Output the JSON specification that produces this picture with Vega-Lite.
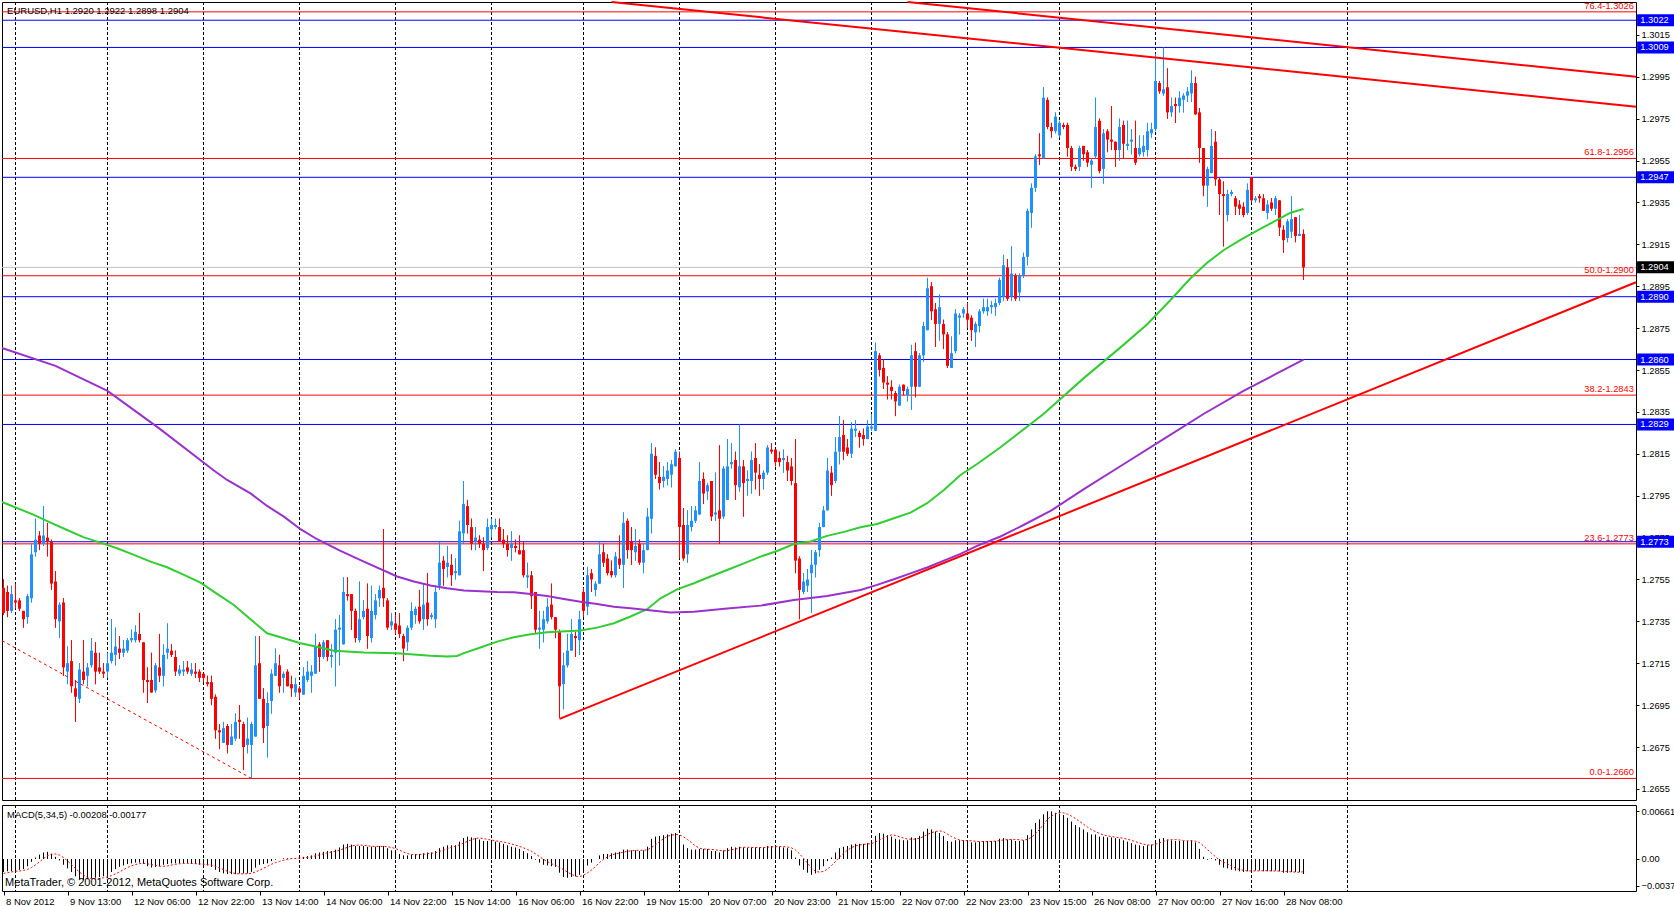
{
"$schema": "https://vega.github.io/schema/vega-lite/v6.json",
"padding": {"left": -3, "top": -3, "right": 0, "bottom": 0},
"background": "white",
"spacing": 3,
"config": {"view": {"stroke": "#000000", "strokeWidth": 1}, "axis": {"labelFont": "Liberation Sans", "labelFontSize": 9.3, "labelColor": "#000000", "tickColor": "#000000", "domain": false, "grid": false, "title": null}, "text": {"font": "Liberation Sans"}},
"datasets": {
"grid": [{"i":3},{"i":26},{"i":50},{"i":74},{"i":98},{"i":122},{"i":145},{"i":169},{"i":193},{"i":217},{"i":241},{"i":264},{"i":288},{"i":312},{"i":336}],
"blue": [{"v":1.3022,"t":"1.3022"},{"v":1.3009,"t":"1.3009"},{"v":1.2947,"t":"1.2947"},{"v":1.289,"t":"1.2890"},{"v":1.286,"t":"1.2860"},{"v":1.2829,"t":"1.2829"},{"v":1.2773,"t":"1.2773"}],
"fib": [{"v":1.3026,"t":"76.4-1.3026"},{"v":1.2956,"t":"61.8-1.2956"},{"v":1.29,"t":"50.0-1.2900"},{"v":1.2843,"t":"38.2-1.2843"},{"v":1.2772,"t":"23.6-1.2773"},{"v":1.266,"t":"0.0-1.2660"}],
"bid": [{"v":1.2904,"t":"1.2904"}],
"trend": [{"g":"a","i":152,"p":1.30307},{"g":"a","i":408.125,"p":1.29807},{"g":"b","i":226,"p":1.30307},{"g":"b","i":408.125,"p":1.2995},{"g":"c","i":139,"p":1.26884},{"g":"c","i":408.125,"p":1.28969}],
"dash": [{"i":-0.375,"p":1.27258},{"i":62,"p":1.266}],
"maG": [{"i":-0.375,"v":1.2792},{"i":7.6,"v":1.27858},{"i":11.75,"v":1.27821},{"i":15.9,"v":1.27786},{"i":20.1,"v":1.27751},{"i":24.25,"v":1.27726},{"i":28.4,"v":1.27699},{"i":32.6,"v":1.27667},{"i":36.75,"v":1.27635},{"i":40.9,"v":1.27608},{"i":45.1,"v":1.27572},{"i":49.25,"v":1.27535},{"i":53.4,"v":1.27481},{"i":57.6,"v":1.27428},{"i":61.75,"v":1.2736},{"i":65.9,"v":1.27293},{"i":70.1,"v":1.27269},{"i":74.25,"v":1.27245},{"i":78.4,"v":1.27229},{"i":82.6,"v":1.2721},{"i":90.1,"v":1.27201},{"i":98.4,"v":1.27198},{"i":106.75,"v":1.27186},{"i":110.9,"v":1.27182},{"i":113.4,"v":1.27185},{"i":115.1,"v":1.27198},{"i":119.25,"v":1.27225},{"i":123.4,"v":1.27253},{"i":127.6,"v":1.27274},{"i":131.75,"v":1.27288},{"i":135.9,"v":1.27298},{"i":144.25,"v":1.27306},{"i":148.4,"v":1.2732},{"i":152.6,"v":1.27341},{"i":156.75,"v":1.27373},{"i":160.9,"v":1.27408},{"i":164.25,"v":1.2746},{"i":168.4,"v":1.27503},{"i":172.6,"v":1.27532},{"i":176.75,"v":1.27564},{"i":180.9,"v":1.27595},{"i":185.1,"v":1.27627},{"i":189.25,"v":1.27659},{"i":193.4,"v":1.27686},{"i":197.6,"v":1.27719},{"i":201.75,"v":1.27731},{"i":205.9,"v":1.27758},{"i":210.1,"v":1.27777},{"i":214.25,"v":1.27799},{"i":218.4,"v":1.27815},{"i":222.6,"v":1.27842},{"i":226.75,"v":1.27869},{"i":230.9,"v":1.27914},{"i":235.1,"v":1.27977},{"i":239.25,"v":1.28049},{"i":243.4,"v":1.28101},{"i":249.25,"v":1.28181},{"i":260,"v":1.2834},{"i":270,"v":1.2851},{"i":280,"v":1.2867},{"i":286,"v":1.2877},{"i":291.75,"v":1.28884},{"i":296.75,"v":1.28988},{"i":300.9,"v":1.29062},{"i":305.1,"v":1.29123},{"i":309.25,"v":1.29171},{"i":313.4,"v":1.29215},{"i":317.6,"v":1.29258},{"i":321.75,"v":1.29301},{"i":325,"v":1.29319}],
"maP": [{"i":-0.375,"v":1.28655},{"i":13,"v":1.2857},{"i":26,"v":1.2845},{"i":39,"v":1.2827},{"i":52.6,"v":1.2807},{"i":55.9,"v":1.28025},{"i":61.75,"v":1.27961},{"i":65.9,"v":1.27901},{"i":70.1,"v":1.2785},{"i":74.25,"v":1.2779},{"i":78.4,"v":1.27742},{"i":84.25,"v":1.27686},{"i":90.1,"v":1.27635},{"i":98.4,"v":1.27564},{"i":102.6,"v":1.2754},{"i":106.75,"v":1.27521},{"i":110.9,"v":1.27508},{"i":115.1,"v":1.27497},{"i":123.4,"v":1.2749},{"i":127.6,"v":1.27489},{"i":131.75,"v":1.27481},{"i":135.9,"v":1.27471},{"i":140.1,"v":1.27457},{"i":144.25,"v":1.27444},{"i":148.4,"v":1.27433},{"i":152.6,"v":1.2742},{"i":156.75,"v":1.27412},{"i":160.9,"v":1.27404},{"i":166.75,"v":1.27392},{"i":172.6,"v":1.27396},{"i":180.9,"v":1.27411},{"i":189.25,"v":1.27425},{"i":197.6,"v":1.27452},{"i":205.9,"v":1.27471},{"i":214.25,"v":1.275},{"i":218.4,"v":1.27524},{"i":222.6,"v":1.27551},{"i":226.75,"v":1.27579},{"i":230.9,"v":1.27607},{"i":235.1,"v":1.2764},{"i":239.25,"v":1.27672},{"i":243.4,"v":1.2771},{"i":249.25,"v":1.27755},{"i":255,"v":1.2781},{"i":262,"v":1.2788},{"i":270,"v":1.2798},{"i":280,"v":1.281},{"i":290,"v":1.2822},{"i":300,"v":1.2834},{"i":310,"v":1.2845},{"i":318,"v":1.2853},{"i":325,"v":1.286}],
"bars": [
{"i":0,"o":1.2751,"h":1.2755,"l":1.2738,"c":1.2739,"m":-0.0018,"s":-0.002},
{"i":1,"o":1.2749,"h":1.2752,"l":1.2737,"c":1.274,"m":-0.0017,"s":-0.0019},
{"i":2,"o":1.274,"h":1.2752,"l":1.2739,"c":1.2748,"m":-0.0017,"s":-0.0018},
{"i":3,"o":1.2745,"h":1.2753,"l":1.2741,"c":1.2744,"m":-0.0016,"s":-0.0017},
{"i":4,"o":1.2745,"h":1.2746,"l":1.274,"c":1.2741,"m":-0.0015,"s":-0.00166},
{"i":5,"o":1.274,"h":1.274,"l":1.2732,"c":1.2736,"m":-0.0014,"s":-0.00158},
{"i":6,"o":1.2737,"h":1.2748,"l":1.2734,"c":1.2747,"m":-0.001,"s":-0.00144},
{"i":7,"o":1.2746,"h":1.2772,"l":1.2744,"c":1.2767,"m":-0.0004,"s":-0.00118},
{"i":8,"o":1.2768,"h":1.2784,"l":1.2766,"c":1.2774,"m":0.0002,"s":-0.00082},
{"i":9,"o":1.2776,"h":1.2778,"l":1.2769,"c":1.2772,"m":0.0006,"s":-0.0004},
{"i":10,"o":1.2772,"h":1.279,"l":1.2771,"c":1.2776,"m":0.0009,"s":0.00006},
{"i":11,"o":1.2775,"h":1.2782,"l":1.2766,"c":1.2773,"m":0.001,"s":0.00046},
{"i":12,"o":1.2773,"h":1.2774,"l":1.275,"c":1.2753,"m":0.0007,"s":0.00068},
{"i":13,"o":1.2754,"h":1.2759,"l":1.2732,"c":1.2736,"m":0.0003,"s":0.0007},
{"i":14,"o":1.2735,"h":1.2744,"l":1.2727,"c":1.2743,"m":-0.0002,"s":0.00054},
{"i":15,"o":1.2744,"h":1.2746,"l":1.2709,"c":1.2713,"m":-0.0008,"s":0.0002},
{"i":16,"o":1.2711,"h":1.2723,"l":1.2705,"c":1.2715,"m":-0.0013,"s":-0.00026},
{"i":17,"o":1.2716,"h":1.2726,"l":1.2701,"c":1.2704,"m":-0.0018,"s":-0.00076},
{"i":18,"o":1.2703,"h":1.2707,"l":1.2687,"c":1.2699,"m":-0.0024,"s":-0.0013},
{"i":19,"o":1.2698,"h":1.2715,"l":1.2696,"c":1.2712,"m":-0.0028,"s":-0.00182},
{"i":20,"o":1.2711,"h":1.2726,"l":1.2705,"c":1.2707,"m":-0.0029,"s":-0.00224},
{"i":21,"o":1.2709,"h":1.2715,"l":1.2704,"c":1.2713,"m":-0.0028,"s":-0.00254},
{"i":22,"o":1.2714,"h":1.2727,"l":1.2713,"c":1.2721,"m":-0.0027,"s":-0.00272},
{"i":23,"o":1.272,"h":1.2725,"l":1.2705,"c":1.2711,"m":-0.0026,"s":-0.00276},
{"i":24,"o":1.2713,"h":1.272,"l":1.271,"c":1.2711,"m":-0.0025,"s":-0.0027},
{"i":25,"o":1.2711,"h":1.2715,"l":1.2708,"c":1.271,"m":-0.0024,"s":-0.0026},
{"i":26,"o":1.2711,"h":1.272,"l":1.2708,"c":1.2715,"m":-0.0022,"s":-0.00248},
{"i":27,"o":1.2716,"h":1.2736,"l":1.2715,"c":1.272,"m":-0.0018,"s":-0.0023},
{"i":28,"o":1.2719,"h":1.2732,"l":1.2714,"c":1.2723,"m":-0.0014,"s":-0.00206},
{"i":29,"o":1.2722,"h":1.2728,"l":1.2717,"c":1.272,"m":-0.0011,"s":-0.00178},
{"i":30,"o":1.272,"h":1.2726,"l":1.2718,"c":1.2722,"m":-0.0009,"s":-0.00148},
{"i":31,"o":1.2721,"h":1.2727,"l":1.272,"c":1.2726,"m":-0.0007,"s":-0.00118},
{"i":32,"o":1.2726,"h":1.2731,"l":1.2725,"c":1.2727,"m":-0.0006,"s":-0.00094},
{"i":33,"o":1.2726,"h":1.2733,"l":1.2725,"c":1.273,"m":-0.0005,"s":-0.00076},
{"i":34,"o":1.2729,"h":1.2739,"l":1.2725,"c":1.2726,"m":-0.0005,"s":-0.00064},
{"i":35,"o":1.2725,"h":1.2725,"l":1.2701,"c":1.2707,"m":-0.0007,"s":-0.0006},
{"i":36,"o":1.2707,"h":1.2713,"l":1.2696,"c":1.2706,"m":-0.001,"s":-0.00066},
{"i":37,"o":1.2707,"h":1.272,"l":1.2701,"c":1.2701,"m":-0.0012,"s":-0.00078},
{"i":38,"o":1.2702,"h":1.2715,"l":1.2701,"c":1.2714,"m":-0.0011,"s":-0.0009},
{"i":39,"o":1.2713,"h":1.2729,"l":1.2706,"c":1.2709,"m":-0.001,"s":-0.001},
{"i":40,"o":1.2709,"h":1.2724,"l":1.2704,"c":1.2719,"m":-0.0008,"s":-0.00102},
{"i":41,"o":1.272,"h":1.2734,"l":1.2717,"c":1.2722,"m":-0.0007,"s":-0.00096},
{"i":42,"o":1.2721,"h":1.2724,"l":1.2718,"c":1.2719,"m":-0.0006,"s":-0.00084},
{"i":43,"o":1.2718,"h":1.2721,"l":1.2709,"c":1.2711,"m":-0.0006,"s":-0.00074},
{"i":44,"o":1.271,"h":1.2714,"l":1.2709,"c":1.2712,"m":-0.0006,"s":-0.00066},
{"i":45,"o":1.2711,"h":1.2716,"l":1.2709,"c":1.2712,"m":-0.0006,"s":-0.00062},
{"i":46,"o":1.2713,"h":1.2716,"l":1.271,"c":1.2711,"m":-0.0006,"s":-0.0006},
{"i":47,"o":1.271,"h":1.2715,"l":1.2709,"c":1.2712,"m":-0.0007,"s":-0.00062},
{"i":48,"o":1.2711,"h":1.2715,"l":1.2708,"c":1.271,"m":-0.0007,"s":-0.00064},
{"i":49,"o":1.2711,"h":1.2712,"l":1.2706,"c":1.2708,"m":-0.0008,"s":-0.00068},
{"i":50,"o":1.271,"h":1.271,"l":1.2706,"c":1.2708,"m":-0.0008,"s":-0.00072},
{"i":51,"o":1.2706,"h":1.2709,"l":1.2704,"c":1.2705,"m":-0.0009,"s":-0.00078},
{"i":52,"o":1.2706,"h":1.2709,"l":1.2695,"c":1.2698,"m":-0.0011,"s":-0.00086},
{"i":53,"o":1.2699,"h":1.27,"l":1.2679,"c":1.2683,"m":-0.0015,"s":-0.00102},
{"i":54,"o":1.2683,"h":1.2686,"l":1.2674,"c":1.2682,"m":-0.0018,"s":-0.00122},
{"i":55,"o":1.2677,"h":1.2687,"l":1.2677,"c":1.2684,"m":-0.002,"s":-0.00146},
{"i":56,"o":1.2685,"h":1.2686,"l":1.2672,"c":1.2676,"m":-0.0021,"s":-0.0017},
{"i":57,"o":1.2676,"h":1.2686,"l":1.2676,"c":1.268,"m":-0.0021,"s":-0.0019},
{"i":58,"o":1.2679,"h":1.2691,"l":1.2678,"c":1.2687,"m":-0.0021,"s":-0.00202},
{"i":59,"o":1.2688,"h":1.2695,"l":1.2679,"c":1.2687,"m":-0.002,"s":-0.00206},
{"i":60,"o":1.2686,"h":1.2687,"l":1.2664,"c":1.2675,"m":-0.002,"s":-0.00206},
{"i":61,"o":1.2676,"h":1.2689,"l":1.2672,"c":1.2679,"m":-0.002,"s":-0.00204},
{"i":62,"o":1.2676,"h":1.2687,"l":1.266,"c":1.2686,"m":-0.0018,"s":-0.00198},
{"i":63,"o":1.268,"h":1.2728,"l":1.268,"c":1.2714,"m":-0.0012,"s":-0.0018},
{"i":64,"o":1.2715,"h":1.2728,"l":1.2698,"c":1.2698,"m":-0.0008,"s":-0.00156},
{"i":65,"o":1.2698,"h":1.2703,"l":1.2677,"c":1.2684,"m":-0.0007,"s":-0.0013},
{"i":66,"o":1.2685,"h":1.2701,"l":1.267,"c":1.2696,"m":-0.0006,"s":-0.00102},
{"i":67,"o":1.2697,"h":1.2712,"l":1.2691,"c":1.271,"m":-0.0003,"s":-0.00072},
{"i":68,"o":1.2709,"h":1.2722,"l":1.2709,"c":1.2715,"m":-0.0001,"s":-0.0005},
{"i":69,"o":1.2714,"h":1.2719,"l":1.2701,"c":1.2704,"m":0,"s":-0.00034},
{"i":70,"o":1.2708,"h":1.2711,"l":1.2701,"c":1.271,"m":0.0001,"s":-0.00018},
{"i":71,"o":1.2711,"h":1.2712,"l":1.2704,"c":1.2704,"m":0.0001,"s":-0.00004},
{"i":72,"o":1.2705,"h":1.2709,"l":1.2699,"c":1.2703,"m":0.0001,"s":0.00004},
{"i":73,"o":1.2701,"h":1.2708,"l":1.2699,"c":1.2705,"m":0.0001,"s":0.00008},
{"i":74,"o":1.2703,"h":1.2704,"l":1.2698,"c":1.2701,"m":0.0002,"s":0.00012},
{"i":75,"o":1.27,"h":1.2713,"l":1.27,"c":1.2709,"m":0.0003,"s":0.00016},
{"i":76,"o":1.2707,"h":1.2716,"l":1.2706,"c":1.2711,"m":0.0004,"s":0.00022},
{"i":77,"o":1.2709,"h":1.2714,"l":1.2701,"c":1.2711,"m":0.0005,"s":0.0003},
{"i":78,"o":1.271,"h":1.2729,"l":1.271,"c":1.2723,"m":0.0008,"s":0.00044},
{"i":79,"o":1.2724,"h":1.2725,"l":1.2711,"c":1.2718,"m":0.0009,"s":0.00058},
{"i":80,"o":1.2718,"h":1.2726,"l":1.2717,"c":1.2725,"m":0.001,"s":0.00072},
{"i":81,"o":1.2726,"h":1.2726,"l":1.2716,"c":1.2718,"m":0.0011,"s":0.00086},
{"i":82,"o":1.2718,"h":1.2724,"l":1.2713,"c":1.2719,"m":0.0011,"s":0.00098},
{"i":83,"o":1.272,"h":1.2736,"l":1.2704,"c":1.2731,"m":0.0013,"s":0.00108},
{"i":84,"o":1.2731,"h":1.2738,"l":1.2714,"c":1.2732,"m":0.0016,"s":0.00122},
{"i":85,"o":1.2724,"h":1.2756,"l":1.2724,"c":1.2749,"m":0.002,"s":0.00142},
{"i":86,"o":1.2748,"h":1.2756,"l":1.2745,"c":1.2747,"m":0.0021,"s":0.00162},
{"i":87,"o":1.2748,"h":1.2748,"l":1.2731,"c":1.274,"m":0.002,"s":0.0018},
{"i":88,"o":1.274,"h":1.2741,"l":1.2725,"c":1.2727,"m":0.0018,"s":0.0019},
{"i":89,"o":1.2726,"h":1.2754,"l":1.2725,"c":1.2736,"m":0.0018,"s":0.00194},
{"i":90,"o":1.2737,"h":1.2745,"l":1.2736,"c":1.274,"m":0.0018,"s":0.0019},
{"i":91,"o":1.2741,"h":1.2753,"l":1.2722,"c":1.2728,"m":0.0017,"s":0.00182},
{"i":92,"o":1.2727,"h":1.2752,"l":1.2725,"c":1.274,"m":0.0017,"s":0.00176},
{"i":93,"o":1.2738,"h":1.2748,"l":1.2736,"c":1.2745,"m":0.0017,"s":0.00174},
{"i":94,"o":1.2746,"h":1.2752,"l":1.2742,"c":1.275,"m":0.0018,"s":0.00174},
{"i":95,"o":1.2751,"h":1.2779,"l":1.2742,"c":1.2746,"m":0.0018,"s":0.00174},
{"i":96,"o":1.2745,"h":1.2746,"l":1.2731,"c":1.2732,"m":0.0015,"s":0.0017},
{"i":97,"o":1.2733,"h":1.2739,"l":1.2731,"c":1.2735,"m":0.0012,"s":0.0016},
{"i":98,"o":1.2734,"h":1.2738,"l":1.2729,"c":1.2731,"m":0.0009,"s":0.00144},
{"i":99,"o":1.2733,"h":1.2739,"l":1.2727,"c":1.2729,"m":0.0007,"s":0.00122},
{"i":100,"o":1.2728,"h":1.2729,"l":1.2716,"c":1.2722,"m":0.0005,"s":0.00096},
{"i":101,"o":1.2725,"h":1.2733,"l":1.2721,"c":1.2732,"m":0.0005,"s":0.00076},
{"i":102,"o":1.2732,"h":1.2744,"l":1.2731,"c":1.274,"m":0.0006,"s":0.00064},
{"i":103,"o":1.2738,"h":1.2742,"l":1.2734,"c":1.2741,"m":0.0007,"s":0.0006},
{"i":104,"o":1.2742,"h":1.275,"l":1.2734,"c":1.2735,"m":0.0007,"s":0.0006},
{"i":105,"o":1.2736,"h":1.2753,"l":1.2731,"c":1.2743,"m":0.0008,"s":0.00066},
{"i":106,"o":1.2744,"h":1.2758,"l":1.2733,"c":1.2736,"m":0.0009,"s":0.00074},
{"i":107,"o":1.2737,"h":1.2739,"l":1.2736,"c":1.2738,"m":0.0009,"s":0.0008},
{"i":108,"o":1.2736,"h":1.2752,"l":1.2732,"c":1.2749,"m":0.0011,"s":0.00088},
{"i":109,"o":1.2752,"h":1.2773,"l":1.275,"c":1.2763,"m":0.0015,"s":0.00104},
{"i":110,"o":1.2764,"h":1.2766,"l":1.2752,"c":1.276,"m":0.0017,"s":0.00122},
{"i":111,"o":1.2761,"h":1.2771,"l":1.2756,"c":1.2763,"m":0.0019,"s":0.00142},
{"i":112,"o":1.2762,"h":1.2767,"l":1.2752,"c":1.2757,"m":0.0019,"s":0.00162},
{"i":113,"o":1.2758,"h":1.2765,"l":1.2755,"c":1.2759,"m":0.0019,"s":0.00178},
{"i":114,"o":1.2757,"h":1.2783,"l":1.2757,"c":1.2778,"m":0.0024,"s":0.00196},
{"i":115,"o":1.2777,"h":1.2802,"l":1.2772,"c":1.2791,"m":0.0029,"s":0.0022},
{"i":116,"o":1.279,"h":1.2793,"l":1.2777,"c":1.2781,"m":0.0031,"s":0.00244},
{"i":117,"o":1.278,"h":1.2784,"l":1.2769,"c":1.2772,"m":0.003,"s":0.00266},
{"i":118,"o":1.2773,"h":1.278,"l":1.2769,"c":1.2775,"m":0.0029,"s":0.00286},
{"i":119,"o":1.2774,"h":1.2776,"l":1.277,"c":1.2772,"m":0.0027,"s":0.00292},
{"i":120,"o":1.2772,"h":1.2775,"l":1.2759,"c":1.2769,"m":0.0025,"s":0.00284},
{"i":121,"o":1.277,"h":1.2784,"l":1.2769,"c":1.278,"m":0.0025,"s":0.00272},
{"i":122,"o":1.2779,"h":1.2784,"l":1.2775,"c":1.2781,"m":0.0025,"s":0.00262},
{"i":123,"o":1.278,"h":1.2784,"l":1.2779,"c":1.2781,"m":0.0024,"s":0.00252},
{"i":124,"o":1.278,"h":1.2784,"l":1.2773,"c":1.2773,"m":0.0023,"s":0.00244},
{"i":125,"o":1.2774,"h":1.2779,"l":1.277,"c":1.2772,"m":0.0021,"s":0.00236},
{"i":126,"o":1.2772,"h":1.2776,"l":1.2766,"c":1.2769,"m":0.0019,"s":0.00224},
{"i":127,"o":1.277,"h":1.2778,"l":1.2764,"c":1.2772,"m":0.0017,"s":0.00208},
{"i":128,"o":1.2771,"h":1.2774,"l":1.2768,"c":1.277,"m":0.0016,"s":0.00192},
{"i":129,"o":1.2769,"h":1.2776,"l":1.2767,"c":1.2767,"m":0.0014,"s":0.00174},
{"i":130,"o":1.2769,"h":1.2773,"l":1.2756,"c":1.2757,"m":0.0011,"s":0.00154},
{"i":131,"o":1.2756,"h":1.2763,"l":1.2751,"c":1.2757,"m":0.0008,"s":0.00132},
{"i":132,"o":1.2757,"h":1.2759,"l":1.2741,"c":1.2747,"m":0.0004,"s":0.00106},
{"i":133,"o":1.2749,"h":1.2749,"l":1.2729,"c":1.2731,"m":-0.0001,"s":0.00072},
{"i":134,"o":1.2731,"h":1.274,"l":1.2722,"c":1.2732,"m":-0.0005,"s":0.00034},
{"i":135,"o":1.2731,"h":1.274,"l":1.2725,"c":1.2736,"m":-0.0008,"s":-0.00004},
{"i":136,"o":1.2735,"h":1.2746,"l":1.2734,"c":1.2742,"m":-0.0009,"s":-0.00038},
{"i":137,"o":1.2743,"h":1.2753,"l":1.2736,"c":1.2737,"m":-0.001,"s":-0.00066},
{"i":138,"o":1.2737,"h":1.2737,"l":1.2727,"c":1.2731,"m":-0.0011,"s":-0.00086},
{"i":139,"o":1.273,"h":1.2731,"l":1.2689,"c":1.2704,"m":-0.0019,"s":-0.00114},
{"i":140,"o":1.2705,"h":1.272,"l":1.2693,"c":1.2714,"m":-0.0025,"s":-0.00148},
{"i":141,"o":1.2714,"h":1.2729,"l":1.2713,"c":1.2721,"m":-0.0026,"s":-0.00182},
{"i":142,"o":1.2721,"h":1.2736,"l":1.2721,"c":1.2729,"m":-0.0025,"s":-0.00212},
{"i":143,"o":1.2728,"h":1.273,"l":1.2718,"c":1.2727,"m":-0.0024,"s":-0.00238},
{"i":144,"o":1.2726,"h":1.274,"l":1.2719,"c":1.2736,"m":-0.0022,"s":-0.00244},
{"i":145,"o":1.2749,"h":1.2751,"l":1.2737,"c":1.274,"m":-0.0016,"s":-0.00226},
{"i":146,"o":1.2742,"h":1.2761,"l":1.2738,"c":1.2757,"m":-0.0009,"s":-0.00192},
{"i":147,"o":1.2758,"h":1.276,"l":1.2749,"c":1.2755,"m":-0.0005,"s":-0.00152},
{"i":148,"o":1.275,"h":1.2754,"l":1.2747,"c":1.2753,"m":0,"s":-0.00104},
{"i":149,"o":1.2753,"h":1.2773,"l":1.2753,"c":1.2767,"m":0.0005,"s":-0.0005},
{"i":150,"o":1.2768,"h":1.2772,"l":1.2761,"c":1.2763,"m":0.0007,"s":-0.00004},
{"i":151,"o":1.2765,"h":1.2767,"l":1.2757,"c":1.2758,"m":0.0007,"s":0.00028},
{"i":152,"o":1.2759,"h":1.2764,"l":1.2756,"c":1.2757,"m":0.0008,"s":0.00054},
{"i":153,"o":1.2757,"h":1.2768,"l":1.2756,"c":1.2766,"m":0.0009,"s":0.00072},
{"i":154,"o":1.2765,"h":1.2776,"l":1.276,"c":1.2762,"m":0.001,"s":0.00082},
{"i":155,"o":1.2762,"h":1.2787,"l":1.2751,"c":1.2782,"m":0.0013,"s":0.00094},
{"i":156,"o":1.2783,"h":1.2784,"l":1.2765,"c":1.2769,"m":0.0013,"s":0.00106},
{"i":157,"o":1.2773,"h":1.278,"l":1.2762,"c":1.2769,"m":0.0012,"s":0.00114},
{"i":158,"o":1.2768,"h":1.2779,"l":1.2764,"c":1.2771,"m":0.0012,"s":0.0012},
{"i":159,"o":1.2772,"h":1.2774,"l":1.2762,"c":1.2763,"m":0.0011,"s":0.00122},
{"i":160,"o":1.2763,"h":1.2772,"l":1.2758,"c":1.2769,"m":0.0012,"s":0.0012},
{"i":161,"o":1.2769,"h":1.2789,"l":1.2769,"c":1.2785,"m":0.0017,"s":0.00128},
{"i":162,"o":1.2784,"h":1.282,"l":1.2777,"c":1.2815,"m":0.0028,"s":0.0016},
{"i":163,"o":1.2814,"h":1.2818,"l":1.2803,"c":1.2805,"m":0.0031,"s":0.00198},
{"i":164,"o":1.2804,"h":1.2811,"l":1.2798,"c":1.2801,"m":0.0032,"s":0.0024},
{"i":165,"o":1.2802,"h":1.2809,"l":1.2799,"c":1.2804,"m":0.0033,"s":0.00282},
{"i":166,"o":1.2803,"h":1.2811,"l":1.28,"c":1.2807,"m":0.0034,"s":0.00316},
{"i":167,"o":1.2805,"h":1.2812,"l":1.2799,"c":1.281,"m":0.0035,"s":0.0033},
{"i":168,"o":1.2809,"h":1.2817,"l":1.2809,"c":1.2816,"m":0.0036,"s":0.0034},
{"i":169,"o":1.2813,"h":1.2816,"l":1.2765,"c":1.278,"m":0.0029,"s":0.00334},
{"i":170,"o":1.2781,"h":1.2789,"l":1.2764,"c":1.2765,"m":0.002,"s":0.00308},
{"i":171,"o":1.2767,"h":1.2788,"l":1.2763,"c":1.2781,"m":0.0015,"s":0.0027},
{"i":172,"o":1.278,"h":1.279,"l":1.2778,"c":1.2783,"m":0.0013,"s":0.00226},
{"i":173,"o":1.2783,"h":1.279,"l":1.2782,"c":1.2788,"m":0.0013,"s":0.0018},
{"i":174,"o":1.2786,"h":1.2811,"l":1.2786,"c":1.2802,"m":0.0014,"s":0.0015},
{"i":175,"o":1.2803,"h":1.2806,"l":1.2791,"c":1.2796,"m":0.0014,"s":0.00138},
{"i":176,"o":1.2797,"h":1.2801,"l":1.2793,"c":1.28,"m":0.0014,"s":0.00136},
{"i":177,"o":1.2802,"h":1.2802,"l":1.2783,"c":1.2785,"m":0.0011,"s":0.00132},
{"i":178,"o":1.2786,"h":1.2806,"l":1.2783,"c":1.2787,"m":0.0011,"s":0.00128},
{"i":179,"o":1.2788,"h":1.2819,"l":1.2772,"c":1.2784,"m":0.0009,"s":0.00118},
{"i":180,"o":1.2785,"h":1.2809,"l":1.2784,"c":1.2808,"m":0.0012,"s":0.00114},
{"i":181,"o":1.2793,"h":1.2822,"l":1.2793,"c":1.2809,"m":0.0015,"s":0.00116},
{"i":182,"o":1.281,"h":1.282,"l":1.2808,"c":1.2811,"m":0.0017,"s":0.00128},
{"i":183,"o":1.2812,"h":1.2816,"l":1.2793,"c":1.28,"m":0.0016,"s":0.00138},
{"i":184,"o":1.2799,"h":1.2829,"l":1.2797,"c":1.2809,"m":0.0017,"s":0.00154},
{"i":185,"o":1.2809,"h":1.2812,"l":1.2785,"c":1.2801,"m":0.0016,"s":0.00162},
{"i":186,"o":1.2802,"h":1.2807,"l":1.2795,"c":1.2803,"m":0.0015,"s":0.00162},
{"i":187,"o":1.2802,"h":1.2816,"l":1.2796,"c":1.2812,"m":0.0016,"s":0.0016},
{"i":188,"o":1.2813,"h":1.282,"l":1.2798,"c":1.2806,"m":0.0016,"s":0.0016},
{"i":189,"o":1.2805,"h":1.281,"l":1.2795,"c":1.2803,"m":0.0016,"s":0.00158},
{"i":190,"o":1.2803,"h":1.2807,"l":1.2798,"c":1.2806,"m":0.0016,"s":0.00158},
{"i":191,"o":1.2806,"h":1.2819,"l":1.2805,"c":1.2818,"m":0.0018,"s":0.00164},
{"i":192,"o":1.2817,"h":1.282,"l":1.2815,"c":1.2816,"m":0.0018,"s":0.00168},
{"i":193,"o":1.2817,"h":1.2817,"l":1.2809,"c":1.2811,"m":0.0017,"s":0.0017},
{"i":194,"o":1.2813,"h":1.2816,"l":1.2809,"c":1.2811,"m":0.0017,"s":0.00172},
{"i":195,"o":1.2812,"h":1.2817,"l":1.2806,"c":1.2813,"m":0.0016,"s":0.00172},
{"i":196,"o":1.2811,"h":1.2814,"l":1.2802,"c":1.2807,"m":0.0015,"s":0.00166},
{"i":197,"o":1.2809,"h":1.2813,"l":1.28,"c":1.2802,"m":0.0012,"s":0.00154},
{"i":198,"o":1.2801,"h":1.2822,"l":1.2758,"c":1.2764,"m":0.0002,"s":0.00124},
{"i":199,"o":1.2765,"h":1.2766,"l":1.2736,"c":1.275,"m":-0.0009,"s":0.00072},
{"i":200,"o":1.2749,"h":1.2758,"l":1.2748,"c":1.2754,"m":-0.0015,"s":0.0001},
{"i":201,"o":1.2752,"h":1.276,"l":1.2749,"c":1.2755,"m":-0.0019,"s":-0.00058},
{"i":202,"o":1.2758,"h":1.2769,"l":1.2739,"c":1.2762,"m":-0.0022,"s":-0.00126},
{"i":203,"o":1.2762,"h":1.2769,"l":1.2756,"c":1.2768,"m":-0.002,"s":-0.0017},
{"i":204,"o":1.2769,"h":1.2782,"l":1.2766,"c":1.278,"m":-0.0015,"s":-0.00182},
{"i":205,"o":1.278,"h":1.279,"l":1.278,"c":1.2788,"m":-0.001,"s":-0.00172},
{"i":206,"o":1.2788,"h":1.2813,"l":1.2788,"c":1.2807,"m":-0.0003,"s":-0.0014},
{"i":207,"o":1.2806,"h":1.2809,"l":1.2795,"c":1.28,"m":0.0002,"s":-0.00092},
{"i":208,"o":1.2802,"h":1.2823,"l":1.2801,"c":1.2816,"m":0.0009,"s":-0.00034},
{"i":209,"o":1.2816,"h":1.2833,"l":1.281,"c":1.2823,"m":0.0015,"s":0.00026},
{"i":210,"o":1.2824,"h":1.2831,"l":1.2812,"c":1.2816,"m":0.0017,"s":0.0008},
{"i":211,"o":1.2818,"h":1.2822,"l":1.2814,"c":1.2815,"m":0.0018,"s":0.00122},
{"i":212,"o":1.2815,"h":1.283,"l":1.2813,"c":1.2827,"m":0.002,"s":0.00158},
{"i":213,"o":1.2826,"h":1.2831,"l":1.2823,"c":1.2827,"m":0.0021,"s":0.00182},
{"i":214,"o":1.2825,"h":1.2826,"l":1.2818,"c":1.2823,"m":0.0021,"s":0.00194},
{"i":215,"o":1.2824,"h":1.2827,"l":1.2819,"c":1.2822,"m":0.0021,"s":0.00202},
{"i":216,"o":1.2822,"h":1.2831,"l":1.2822,"c":1.2828,"m":0.0022,"s":0.0021},
{"i":217,"o":1.2827,"h":1.2834,"l":1.2826,"c":1.2828,"m":0.0022,"s":0.00214},
{"i":218,"o":1.2826,"h":1.2868,"l":1.2826,"c":1.2864,"m":0.0032,"s":0.00236},
{"i":219,"o":1.2862,"h":1.2863,"l":1.2852,"c":1.2855,"m":0.0036,"s":0.00266},
{"i":220,"o":1.2856,"h":1.286,"l":1.2846,"c":1.2849,"m":0.0035,"s":0.00294},
{"i":221,"o":1.2849,"h":1.2852,"l":1.2841,"c":1.2848,"m":0.0033,"s":0.00316},
{"i":222,"o":1.2847,"h":1.285,"l":1.2841,"c":1.2845,"m":0.0031,"s":0.00334},
{"i":223,"o":1.2844,"h":1.2845,"l":1.2833,"c":1.284,"m":0.0028,"s":0.00326},
{"i":224,"o":1.2838,"h":1.2848,"l":1.2838,"c":1.2847,"m":0.0027,"s":0.00308},
{"i":225,"o":1.2848,"h":1.2848,"l":1.2843,"c":1.2845,"m":0.0026,"s":0.0029},
{"i":226,"o":1.2843,"h":1.2847,"l":1.284,"c":1.2846,"m":0.0026,"s":0.00276},
{"i":227,"o":1.2847,"h":1.2867,"l":1.2836,"c":1.2862,"m":0.003,"s":0.00274},
{"i":228,"o":1.2864,"h":1.2868,"l":1.2842,"c":1.2847,"m":0.0029,"s":0.00276},
{"i":229,"o":1.2847,"h":1.2863,"l":1.2847,"c":1.2862,"m":0.0032,"s":0.00286},
{"i":230,"o":1.2862,"h":1.2878,"l":1.2859,"c":1.2876,"m":0.0038,"s":0.0031},
{"i":231,"o":1.2874,"h":1.2899,"l":1.2874,"c":1.2894,"m":0.0042,"s":0.00342},
{"i":232,"o":1.2895,"h":1.2897,"l":1.2879,"c":1.2883,"m":0.0041,"s":0.00364},
{"i":233,"o":1.2884,"h":1.2887,"l":1.2866,"c":1.2877,"m":0.0038,"s":0.00382},
{"i":234,"o":1.2877,"h":1.2891,"l":1.2869,"c":1.2885,"m":0.0036,"s":0.0039},
{"i":235,"o":1.2877,"h":1.2879,"l":1.2865,"c":1.2872,"m":0.0032,"s":0.00378},
{"i":236,"o":1.2872,"h":1.2873,"l":1.2856,"c":1.2857,"m":0.0025,"s":0.00344},
{"i":237,"o":1.2856,"h":1.2871,"l":1.2856,"c":1.2863,"m":0.0024,"s":0.0031},
{"i":238,"o":1.2864,"h":1.2884,"l":1.2863,"c":1.2882,"m":0.0026,"s":0.00286},
{"i":239,"o":1.288,"h":1.2882,"l":1.2872,"c":1.2881,"m":0.0026,"s":0.00266},
{"i":240,"o":1.2882,"h":1.2885,"l":1.288,"c":1.2884,"m":0.0026,"s":0.00254},
{"i":241,"o":1.2882,"h":1.2887,"l":1.2875,"c":1.2879,"m":0.0025,"s":0.00254},
{"i":242,"o":1.288,"h":1.2881,"l":1.2869,"c":1.2874,"m":0.0023,"s":0.00252},
{"i":243,"o":1.2873,"h":1.2878,"l":1.2866,"c":1.2877,"m":0.0023,"s":0.00246},
{"i":244,"o":1.2876,"h":1.2884,"l":1.2873,"c":1.2883,"m":0.0024,"s":0.00242},
{"i":245,"o":1.2883,"h":1.2889,"l":1.2882,"c":1.2885,"m":0.0025,"s":0.0024},
{"i":246,"o":1.2883,"h":1.2889,"l":1.2881,"c":1.2885,"m":0.0025,"s":0.0024},
{"i":247,"o":1.2885,"h":1.2888,"l":1.2882,"c":1.2886,"m":0.0025,"s":0.00244},
{"i":248,"o":1.2885,"h":1.2889,"l":1.2881,"c":1.2887,"m":0.0025,"s":0.00248},
{"i":249,"o":1.2887,"h":1.2899,"l":1.2886,"c":1.2898,"m":0.0028,"s":0.00256},
{"i":250,"o":1.289,"h":1.291,"l":1.2888,"c":1.2905,"m":0.0029,"s":0.00264},
{"i":251,"o":1.2904,"h":1.2908,"l":1.2888,"c":1.2889,"m":0.0027,"s":0.00268},
{"i":252,"o":1.289,"h":1.2914,"l":1.2888,"c":1.2901,"m":0.0027,"s":0.00272},
{"i":253,"o":1.29,"h":1.2901,"l":1.2888,"c":1.2889,"m":0.0025,"s":0.00272},
{"i":254,"o":1.2892,"h":1.2901,"l":1.2888,"c":1.29,"m":0.0025,"s":0.00266},
{"i":255,"o":1.29,"h":1.2911,"l":1.2899,"c":1.2909,"m":0.0026,"s":0.0026},
{"i":256,"o":1.2909,"h":1.2932,"l":1.2905,"c":1.2931,"m":0.0033,"s":0.00272},
{"i":257,"o":1.293,"h":1.2944,"l":1.2923,"c":1.2942,"m":0.0041,"s":0.003},
{"i":258,"o":1.2942,"h":1.2958,"l":1.294,"c":1.2957,"m":0.005,"s":0.0035},
{"i":259,"o":1.2958,"h":1.2968,"l":1.2953,"c":1.2957,"m":0.0055,"s":0.0041},
{"i":260,"o":1.2956,"h":1.299,"l":1.2956,"c":1.2985,"m":0.0062,"s":0.00482},
{"i":261,"o":1.2984,"h":1.2985,"l":1.297,"c":1.2971,"m":0.00661,"s":0.00548},
{"i":262,"o":1.2971,"h":1.2973,"l":1.2966,"c":1.2969,"m":0.0066,"s":0.00598},
{"i":263,"o":1.2969,"h":1.2978,"l":1.2968,"c":1.2976,"m":0.0064,"s":0.00626},
{"i":264,"o":1.2967,"h":1.2974,"l":1.2966,"c":1.2973,"m":0.0063,"s":0.00642},
{"i":265,"o":1.2972,"h":1.2973,"l":1.297,"c":1.2971,"m":0.0061,"s":0.0064},
{"i":266,"o":1.2972,"h":1.2973,"l":1.2957,"c":1.2961,"m":0.0057,"s":0.00622},
{"i":267,"o":1.2961,"h":1.2962,"l":1.295,"c":1.2952,"m":0.0052,"s":0.00594},
{"i":268,"o":1.2952,"h":1.2953,"l":1.295,"c":1.2951,"m":0.0047,"s":0.0056},
{"i":269,"o":1.2952,"h":1.2962,"l":1.295,"c":1.2961,"m":0.0044,"s":0.00522},
{"i":270,"o":1.2962,"h":1.2962,"l":1.2955,"c":1.2958,"m":0.0041,"s":0.00482},
{"i":271,"o":1.2959,"h":1.296,"l":1.2952,"c":1.2954,"m":0.0037,"s":0.00442},
{"i":272,"o":1.2953,"h":1.2956,"l":1.2942,"c":1.2955,"m":0.0034,"s":0.00406},
{"i":273,"o":1.2957,"h":1.2985,"l":1.2956,"c":1.2971,"m":0.0034,"s":0.0038},
{"i":274,"o":1.2974,"h":1.2975,"l":1.2949,"c":1.295,"m":0.0031,"s":0.00354},
{"i":275,"o":1.2951,"h":1.297,"l":1.2944,"c":1.2968,"m":0.0031,"s":0.00334},
{"i":276,"o":1.2969,"h":1.297,"l":1.2959,"c":1.2965,"m":0.003,"s":0.0032},
{"i":277,"o":1.2965,"h":1.2981,"l":1.296,"c":1.2964,"m":0.003,"s":0.00312},
{"i":278,"o":1.2964,"h":1.2964,"l":1.2952,"c":1.296,"m":0.0029,"s":0.00302},
{"i":279,"o":1.296,"h":1.2975,"l":1.2955,"c":1.2971,"m":0.0028,"s":0.00296},
{"i":280,"o":1.2972,"h":1.2974,"l":1.2956,"c":1.2963,"m":0.0026,"s":0.00286},
{"i":281,"o":1.2962,"h":1.2974,"l":1.296,"c":1.2963,"m":0.0024,"s":0.00274},
{"i":282,"o":1.2964,"h":1.297,"l":1.2958,"c":1.2965,"m":0.0022,"s":0.00258},
{"i":283,"o":1.2961,"h":1.2974,"l":1.2953,"c":1.2954,"m":0.002,"s":0.0024},
{"i":284,"o":1.2958,"h":1.2967,"l":1.2957,"c":1.2961,"m":0.0019,"s":0.00222},
{"i":285,"o":1.2959,"h":1.2967,"l":1.2957,"c":1.2962,"m":0.0018,"s":0.00206},
{"i":286,"o":1.296,"h":1.2973,"l":1.2957,"c":1.2969,"m":0.0019,"s":0.00196},
{"i":287,"o":1.2968,"h":1.2973,"l":1.2966,"c":1.297,"m":0.002,"s":0.00192},
{"i":288,"o":1.297,"h":1.3006,"l":1.2969,"c":1.2993,"m":0.0026,"s":0.00204},
{"i":289,"o":1.2992,"h":1.2993,"l":1.2987,"c":1.2988,"m":0.0028,"s":0.00222},
{"i":290,"o":1.2987,"h":1.3009,"l":1.2986,"c":1.2989,"m":0.0029,"s":0.00244},
{"i":291,"o":1.299,"h":1.2999,"l":1.2975,"c":1.2978,"m":0.0027,"s":0.0026},
{"i":292,"o":1.2978,"h":1.2985,"l":1.2976,"c":1.2981,"m":0.0026,"s":0.00272},
{"i":293,"o":1.2982,"h":1.2985,"l":1.2973,"c":1.2981,"m":0.0025,"s":0.0027},
{"i":294,"o":1.2981,"h":1.2988,"l":1.2978,"c":1.2985,"m":0.0025,"s":0.00264},
{"i":295,"o":1.2984,"h":1.2987,"l":1.2978,"c":1.2986,"m":0.0025,"s":0.00256},
{"i":296,"o":1.2986,"h":1.299,"l":1.2983,"c":1.2988,"m":0.0025,"s":0.00252},
{"i":297,"o":1.2987,"h":1.2998,"l":1.2983,"c":1.2992,"m":0.0026,"s":0.00252},
{"i":298,"o":1.2992,"h":1.2995,"l":1.2977,"c":1.2977,"m":0.0023,"s":0.00248},
{"i":299,"o":1.2978,"h":1.298,"l":1.2954,"c":1.2961,"m":0.0014,"s":0.00226},
{"i":300,"o":1.2961,"h":1.2961,"l":1.2938,"c":1.2943,"m":0.0003,"s":0.00182},
{"i":301,"o":1.2943,"h":1.2952,"l":1.2933,"c":1.2951,"m":-0.0001,"s":0.0013},
{"i":302,"o":1.2949,"h":1.297,"l":1.2949,"c":1.2962,"m":0.0001,"s":0.0008},
{"i":303,"o":1.2964,"h":1.2969,"l":1.2943,"c":1.2946,"m":-0.0002,"s":0.0003},
{"i":304,"o":1.2946,"h":1.2947,"l":1.2929,"c":1.2939,"m":-0.0008,"s":-0.00014},
{"i":305,"o":1.2939,"h":1.2945,"l":1.2914,"c":1.2938,"m":-0.0012,"s":-0.00044},
{"i":306,"o":1.2929,"h":1.2941,"l":1.2926,"c":1.2939,"m":-0.0013,"s":-0.00068},
{"i":307,"o":1.2939,"h":1.2941,"l":1.2938,"c":1.294,"m":-0.0015,"s":-0.001},
{"i":308,"o":1.2937,"h":1.2938,"l":1.2929,"c":1.2933,"m":-0.0016,"s":-0.00128},
{"i":309,"o":1.2934,"h":1.2936,"l":1.2929,"c":1.2932,"m":-0.0017,"s":-0.00146},
{"i":310,"o":1.2933,"h":1.2935,"l":1.2928,"c":1.2929,"m":-0.0018,"s":-0.00158},
{"i":311,"o":1.293,"h":1.2944,"l":1.2929,"c":1.2941,"m":-0.0017,"s":-0.00166},
{"i":312,"o":1.2947,"h":1.2947,"l":1.2935,"c":1.2936,"m":-0.0015,"s":-0.00166},
{"i":313,"o":1.2936,"h":1.2938,"l":1.2935,"c":1.2937,"m":-0.0016,"s":-0.00166},
{"i":314,"o":1.2938,"h":1.2939,"l":1.2935,"c":1.2937,"m":-0.0016,"s":-0.00164},
{"i":315,"o":1.2937,"h":1.2939,"l":1.2931,"c":1.2931,"m":-0.0017,"s":-0.00162},
{"i":316,"o":1.293,"h":1.2936,"l":1.2927,"c":1.2934,"m":-0.0017,"s":-0.00162},
{"i":317,"o":1.2935,"h":1.2937,"l":1.2931,"c":1.2932,"m":-0.0017,"s":-0.00166},
{"i":318,"o":1.2932,"h":1.2938,"l":1.2929,"c":1.2937,"m":-0.0016,"s":-0.00166},
{"i":319,"o":1.2936,"h":1.2936,"l":1.2919,"c":1.2923,"m":-0.0017,"s":-0.00168},
{"i":320,"o":1.2922,"h":1.2924,"l":1.2911,"c":1.2917,"m":-0.0019,"s":-0.00172},
{"i":321,"o":1.2918,"h":1.2927,"l":1.2916,"c":1.2926,"m":-0.0019,"s":-0.00176},
{"i":322,"o":1.2921,"h":1.2938,"l":1.2918,"c":1.2927,"m":-0.0018,"s":-0.00178},
{"i":323,"o":1.2928,"h":1.2928,"l":1.2916,"c":1.2919,"m":-0.0018,"s":-0.00182},
{"i":324,"o":1.2919,"h":1.2929,"l":1.2919,"c":1.292,"m":-0.0018,"s":-0.00184},
{"i":325,"o":1.292,"h":1.2922,"l":1.2898,"c":1.2904,"m":-0.00208,"s":-0.00177}
]
},
"vconcat": [
{
"width": 1634, "height": 798,
"layer": [
{"data": {"name": "bars"}, "mark": {"type": "rule", "strokeWidth": 1},
 "encoding": {
  "x": {"field": "i", "type": "quantitative", "scale": {"domain": [-0.375, 408.125], "nice": false, "zero": false}, "axis": null},
  "y": {"field": "l", "type": "quantitative", "scale": {"domain": [1.26497, 1.30307], "nice": false, "zero": false}, "title": null, "axis": {"orient": "right", "title": null, "values": [1.2655, 1.2675, 1.2695, 1.2715, 1.2735, 1.2755, 1.2775, 1.2795, 1.2815, 1.2835, 1.2855, 1.2875, 1.2895, 1.2915, 1.2935, 1.2955, 1.2975, 1.2995, 1.3015], "format": ".4f", "tickSize": 3, "labelPadding": 2, "labelOverlap": false, "labelBound": false, "labelFlush": false}},
  "y2": {"field": "h"},
  "color": {"condition": {"test": "datum.c >= datum.o", "value": "#1E90FF"}, "value": "#FF0000"}}},
{"data": {"name": "grid"}, "mark": {"type": "rule", "color": "#000000", "strokeWidth": 1, "strokeDash": [3, 2]},
 "encoding": {"x": {"field": "i", "type": "quantitative", "axis": null}}},
{"data": {"name": "bid"}, "mark": {"type": "rule", "color": "#C0C0C0", "strokeWidth": 1},
 "encoding": {"y": {"field": "v", "type": "quantitative", "title": null}}},
{"data": {"name": "blue"}, "mark": {"type": "rule", "color": "#0000FF", "strokeWidth": 1},
 "encoding": {"y": {"field": "v", "type": "quantitative", "title": null}}},
{"data": {"name": "fib"}, "mark": {"type": "rule", "color": "#FF0000", "strokeWidth": 1},
 "encoding": {"y": {"field": "v", "type": "quantitative", "title": null}}},
{"data": {"name": "bars"}, "mark": {"type": "rule", "strokeWidth": 1},
 "encoding": {
  "x": {"field": "i", "type": "quantitative", "axis": null},
  "y": {"field": "l", "type": "quantitative", "title": null},
  "y2": {"field": "h"},
  "color": {"condition": {"test": "datum.c >= datum.o", "value": "#1E90FF"}, "value": "#FF0000"}}},
{"data": {"name": "bars"}, "mark": {"type": "rule", "strokeWidth": 3},
 "encoding": {
  "x": {"field": "i", "type": "quantitative", "axis": null},
  "y": {"field": "o", "type": "quantitative", "title": null},
  "y2": {"field": "c"},
  "color": {"condition": {"test": "datum.c >= datum.o", "value": "#1E90FF"}, "value": "#FF0000"}}},
{"data": {"name": "maG"}, "mark": {"type": "line", "color": "#32CD32", "strokeWidth": 2},
 "encoding": {"x": {"field": "i", "type": "quantitative", "axis": null}, "y": {"field": "v", "type": "quantitative", "title": null}}},
{"data": {"name": "maP"}, "mark": {"type": "line", "color": "#9932CC", "strokeWidth": 2},
 "encoding": {"x": {"field": "i", "type": "quantitative", "axis": null}, "y": {"field": "v", "type": "quantitative", "title": null}}},
{"data": {"name": "trend"}, "mark": {"type": "line", "color": "#FF0000", "strokeWidth": 2},
 "encoding": {"x": {"field": "i", "type": "quantitative", "axis": null}, "y": {"field": "p", "type": "quantitative", "title": null}, "detail": {"field": "g"}}},
{"data": {"name": "dash"}, "mark": {"type": "line", "color": "#FF0000", "strokeWidth": 1, "strokeDash": [3, 3]},
 "encoding": {"x": {"field": "i", "type": "quantitative", "axis": null}, "y": {"field": "p", "type": "quantitative", "title": null}}},
{"data": {"name": "fib"}, "mark": {"type": "text", "color": "#FF0000", "fontSize": 9.3, "align": "right", "baseline": "bottom", "dy": -1},
 "encoding": {"x": {"datum": 407.6, "type": "quantitative", "axis": null}, "y": {"field": "v", "type": "quantitative", "title": null}, "text": {"field": "t"}}},
{"data": {"values": [{"t": "EURUSD,H1  1.2920 1.2922 1.2898 1.2904"}]}, "mark": {"type": "text", "color": "#000000", "fontSize": 9.5, "align": "left", "baseline": "middle"},
 "encoding": {"x": {"datum": 0.9, "type": "quantitative", "axis": null}, "y": {"datum": 1.30264, "type": "quantitative", "title": null}, "text": {"field": "t"}}},
{"data": {"name": "blue"}, "mark": {"type": "rule", "color": "#0000FF", "strokeWidth": 12},
 "encoding": {"x": {"datum": 408.4, "type": "quantitative", "axis": null}, "x2": {"datum": 418.5}, "y": {"field": "v", "type": "quantitative", "title": null}}},
{"data": {"name": "bid"}, "mark": {"type": "rule", "color": "#000000", "strokeWidth": 12},
 "encoding": {"x": {"datum": 408.4, "type": "quantitative", "axis": null}, "x2": {"datum": 418.5}, "y": {"field": "v", "type": "quantitative", "title": null}}},
{"data": {"name": "blue"}, "mark": {"type": "text", "color": "#FFFFFF", "fontSize": 9.3, "align": "left", "baseline": "middle"},
 "encoding": {"x": {"datum": 409.2, "type": "quantitative", "axis": null}, "y": {"field": "v", "type": "quantitative", "title": null}, "text": {"field": "t"}}},
{"data": {"name": "bid"}, "mark": {"type": "text", "color": "#FFFFFF", "fontSize": 9.3, "align": "left", "baseline": "middle"},
 "encoding": {"x": {"datum": 409.2, "type": "quantitative", "axis": null}, "y": {"field": "v", "type": "quantitative", "title": null}, "text": {"field": "t"}}}
]
},
{
"width": 1634, "height": 86,
"layer": [
{"data": {"name": "bars"}, "mark": {"type": "rule", "color": "#000000", "strokeWidth": 1},
 "encoding": {
  "x": {"field": "i", "type": "quantitative", "scale": {"domain": [-0.375, 408.125], "nice": false, "zero": false}, "title": null, "axis": {"orient": "bottom", "title": null, "values": [0, 16, 32, 48, 64, 80, 96, 112, 128, 144, 160, 176, 192, 208, 224, 240, 256, 272, 288, 304, 320], "labelExpr": "['8 Nov 2012','9 Nov 13:00','12 Nov 06:00','12 Nov 22:00','13 Nov 14:00','14 Nov 06:00','14 Nov 22:00','15 Nov 14:00','16 Nov 06:00','16 Nov 22:00','19 Nov 15:00','20 Nov 07:00','20 Nov 23:00','21 Nov 15:00','22 Nov 07:00','22 Nov 23:00','23 Nov 15:00','26 Nov 08:00','27 Nov 00:00','27 Nov 16:00','28 Nov 08:00'][round(datum.value/16)]", "labelAlign": "left", "labelBaseline": "top", "labelPadding": 1, "labelOffset": 2, "tickSize": 4, "labelFontSize": 9.5, "labelFlush": false, "labelOverlap": false, "labelBound": false}},
  "y": {"field": "m", "type": "quantitative", "scale": {"domain": [-0.004435, 0.007484], "nice": false, "zero": false}, "title": null, "axis": {"orient": "right", "title": null, "values": [0.00661, 0, -0.00374], "labelExpr": "datum.value == 0 ? '0.00' : format(datum.value, '.5f')", "tickSize": 3, "labelPadding": 2, "labelOverlap": false, "labelBound": false, "labelFlush": false}},
  "y2": {"datum": 0}}},
{"data": {"name": "grid"}, "mark": {"type": "rule", "color": "#000000", "strokeWidth": 1, "strokeDash": [3, 2]},
 "encoding": {"x": {"field": "i", "type": "quantitative", "title": null}}},
{"data": {"name": "bars"}, "mark": {"type": "line", "color": "#FF0000", "strokeWidth": 1, "strokeDash": [2, 2]},
 "encoding": {"x": {"field": "i", "type": "quantitative", "title": null}, "y": {"field": "s", "type": "quantitative", "title": null}}},
{"data": {"values": [{"t": "MACD(5,34,5) -0.00208 -0.00177"}]}, "mark": {"type": "text", "color": "#000000", "fontSize": 9.4, "align": "left", "baseline": "middle"},
 "encoding": {"x": {"datum": 0.9, "type": "quantitative", "title": null}, "y": {"datum": 0.00614, "type": "quantitative", "title": null}, "text": {"field": "t"}}},
{"data": {"values": [{"t": "MetaTrader, © 2001-2012, MetaQuotes Software Corp."}]}, "mark": {"type": "text", "color": "#000000", "fontSize": 11, "align": "left", "baseline": "middle"},
 "encoding": {"x": {"datum": 0.4, "type": "quantitative", "title": null}, "y": {"datum": -0.00335, "type": "quantitative", "title": null}, "text": {"field": "t"}}}
]
}
]
}
